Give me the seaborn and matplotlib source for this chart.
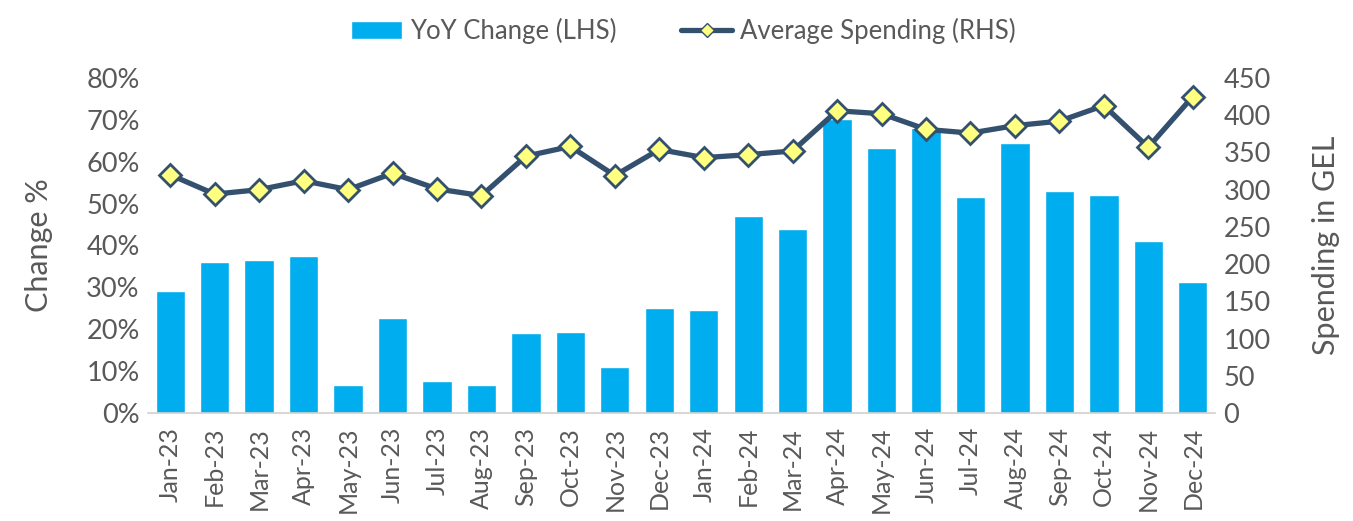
import matplotlib
matplotlib.use('Agg')
import matplotlib.pyplot as plt
import numpy as np
import pandas as pd
import seaborn as sns
from matplotlib.lines import Line2D
from matplotlib.patches import Patch
from matplotlib.ticker import FixedLocator, PercentFormatter

# data
months = ['Jan-23', 'Feb-23', 'Mar-23', 'Apr-23', 'May-23', 'Jun-23',
          'Jul-23', 'Aug-23', 'Sep-23', 'Oct-23', 'Nov-23', 'Dec-23',
          'Jan-24', 'Feb-24', 'Mar-24', 'Apr-24', 'May-24', 'Jun-24',
          'Jul-24', 'Aug-24', 'Sep-24', 'Oct-24', 'Nov-24', 'Dec-24']
yoy_change = [29.1, 36.0, 36.6, 37.5, 6.8, 22.6, 7.7, 6.6, 19.1, 19.3, 11.0, 25.0,
              24.6, 47.1, 43.9, 70.2, 63.4, 68.1, 51.6, 64.4, 53.1, 52.0, 41.1, 31.4]
avg_spending = [320, 294, 300, 312, 300, 322, 301, 292, 345, 358, 319, 354,
                343, 347, 352, 406, 402, 381, 376, 386, 392, 413, 357, 425]

df = pd.DataFrame({'month': months, 'yoy': yoy_change, 'spend': avg_spending})

bar_color = '#00AEEF'
line_color = '#34506F'
text_color = '#595959'

sns.set_style('white')
plt.rcParams['font.family'] = ['Lato', 'DejaVu Sans']
plt.rcParams['font.size'] = 19

fig, ax = plt.subplots(figsize=(13.53, 5.21), dpi=100)
fig.subplots_adjust(left=0.1094, right=0.898, bottom=0.2073, top=0.8503)

sns.barplot(data=df, x='month', y='yoy', color=bar_color, saturation=1,
            width=0.66, ax=ax)

ax2 = ax.twinx()
sns.pointplot(data=df, x='month', y='spend', color=line_color, markers='D',
              errorbar=None, ax=ax2, linewidth=3.8,
              markersize=11, markerfacecolor='#FFFF80',
              markeredgecolor=line_color, markeredgewidth=2)

ax.set_ylim(0, 80)
ax.set_yticks(range(0, 81, 10))
ax.yaxis.set_major_formatter(PercentFormatter(decimals=0))
ax2.set_ylim(0, 450)
ax2.set_yticks(range(0, 451, 50))
ax.set_xlim(-0.5, len(months) - 0.5)

ax.set_xlabel('')
ax.set_ylabel('Change %', color=text_color, fontsize=22, labelpad=24)
ax2.set_ylabel('Spending in GEL', color=text_color, fontsize=22, labelpad=30)

for a in (ax, ax2):
    for s in a.spines.values():
        s.set_visible(False)
    a.tick_params(axis='y', length=0, labelsize=19.5, colors=text_color, pad=6)

ax.spines['bottom'].set_visible(True)
ax.spines['bottom'].set_color('#D0D0D0')
ax.spines['bottom'].set_linewidth(1.2)
ax.tick_params(axis='x', which='major', length=0, labelsize=18,
               colors=text_color, rotation=90, pad=10)
ax.xaxis.set_minor_locator(FixedLocator(np.arange(-0.5, len(months), 1)))
ax.tick_params(axis='x', which='minor', length=10, width=1.2, color='#D0D0D0')

handles = [
    Patch(facecolor=bar_color, label='YoY Change (LHS)'),
    Line2D([], [], color=line_color, linewidth=3.8, marker='D', markersize=7,
           markerfacecolor='#FFFF80', markeredgecolor=line_color,
           label='Average Spending (RHS)'),
]
leg = fig.legend(handles=handles, loc='upper center', ncol=2, frameon=False,
                 bbox_to_anchor=(0.505, 1.01), fontsize=18.5, handlelength=2.0,
                 columnspacing=2.5, handletextpad=0.3)
for t in leg.get_texts():
    t.set_color(text_color)

fig.savefig('out.png', dpi=100)
